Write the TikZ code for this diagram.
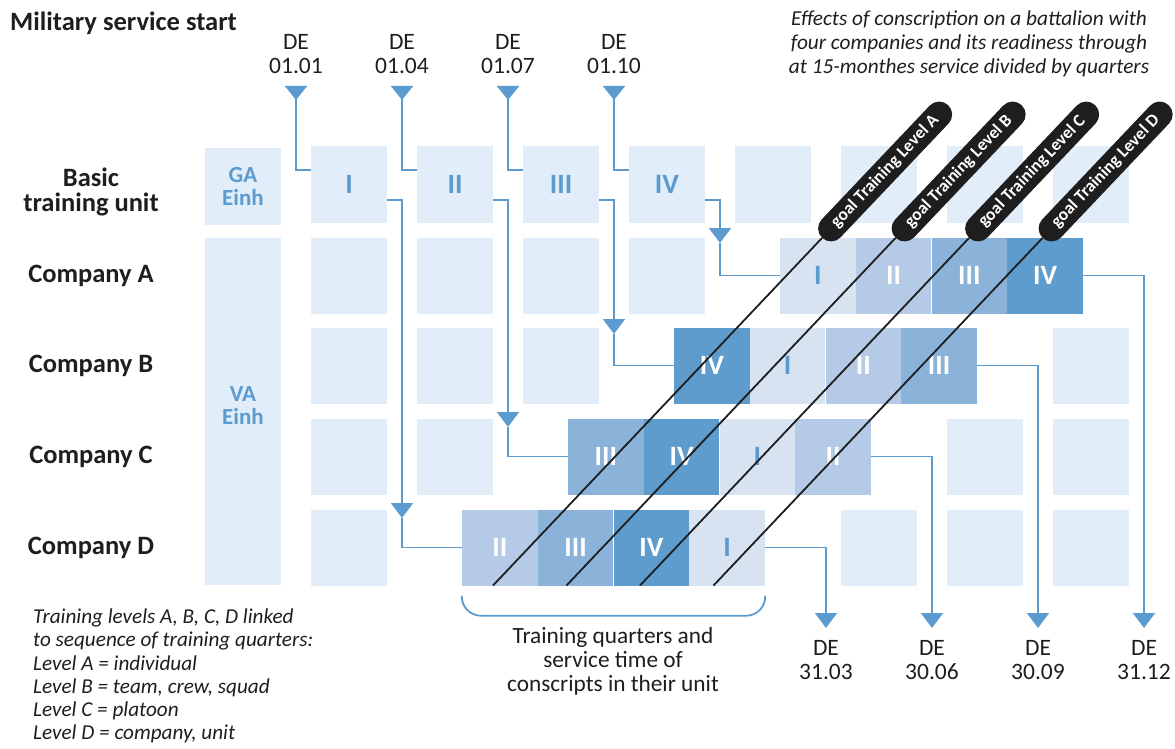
\documentclass[tikz,border=0pt]{standalone}
\usepackage{fontspec}
\setmainfont{Carlito}
\usepackage{tikz}
\usetikzlibrary{arrows.meta,shapes.misc}

\definecolor{cellblue}{HTML}{E1EDF9}
\definecolor{qone}{HTML}{D7E3F1}
\definecolor{qtwo}{HTML}{B4CAE6}
\definecolor{qthree}{HTML}{8BB3D9}
\definecolor{qfour}{HTML}{5D9CCC}
\definecolor{flowblue}{HTML}{5B9BD0}
\definecolor{inkblack}{HTML}{1E1E1E}

\begin{document}
\begin{tikzpicture}[x=1pt,y=-1pt,every node/.style={inner sep=0pt}]
		\tikzstyle{cell}=[fill=cellblue, minimum width=76pt, minimum height=76pt, text=flowblue, font=\fontsize{28}{28}\selectfont\bfseries]
		\tikzstyle{unitbox}=[cell, align=center, font=\fontsize{23}{23}\selectfont\bfseries]
		\tikzstyle{quarter}=[minimum width=75.75pt, minimum height=76pt, font=\fontsize{28}{28}\selectfont\bfseries]
		\tikzstyle{qI}=[quarter, fill=qone, text=flowblue]
		\tikzstyle{qII}=[quarter, fill=qtwo, text=white]
		\tikzstyle{qIII}=[quarter, fill=qthree, text=white]
		\tikzstyle{qIV}=[quarter, fill=qfour, text=white]
		\tikzstyle{rowlabel}=[text=inkblack, align=center, font=\fontsize{26.5}{25}\selectfont\bfseries]
		\tikzstyle{datelbl}=[text=inkblack, align=center, font=\fontsize{23.5}{23.5}\selectfont]
		\tikzstyle{note}=[text=inkblack, font=\fontsize{21.2}{23.3}\selectfont\itshape]
		\tikzstyle{flow}=[draw=flowblue, line width=1.8pt]
		\tikzstyle{downtip}=[-{Triangle[width=22pt,length=15pt]}]
		\tikzstyle{starttip}=[{Triangle[reversed,width=22pt,length=14pt]}-]
		\tikzstyle{goal}=[rounded rectangle, fill=inkblack, text=white, minimum height=26pt, minimum width=183pt, rotate=46.5, anchor=west, font=\fontsize{17.5}{17.5}\selectfont\bfseries]
		\tikzstyle{goalline}=[draw=inkblack, line width=1.8pt]
		
		\useasboundingbox (0,0) rectangle (1175,749);
		
		\node[anchor=base west, text=inkblack, font=\fontsize{26.5}{26.5}\selectfont\bfseries] (title) at (10,31) {Military service start};
		\node[note, align=center, font=\fontsize{21.3}{24}\selectfont\itshape] (effects) at (969,44) {Effects of conscription on a battalion with\\four companies and its readiness through\\at 15-monthes service divided by quarters};
		
		\node[rowlabel]              (basic) at (91,192)   {Basic\\training unit};
		\node[rowlabel, anchor=base] (compA) at (91,282.5) {Company A};
		\node[rowlabel, anchor=base] (compB) at (91,372.5) {Company B};
		\node[rowlabel, anchor=base] (compC) at (91,463.5) {Company C};
		\node[rowlabel, anchor=base] (compD) at (91,554.5) {Company D};
		
		\node[datelbl] (st1) at (296,54) {DE\\01.01};
		\node[datelbl] (st2) at (402,54) {DE\\01.04};
		\node[datelbl] (st3) at (508,54) {DE\\01.07};
		\node[datelbl] (st4) at (614,54) {DE\\01.10};
		
		\node[unitbox] (ga)   at (243,186.5) {GA\\Einh};
		\node[cell]    (bI)   at (349,184.5) {I};
		\node[cell]    (bII)  at (455,184.5) {II};
		\node[cell]    (bIII) at (561,184.5) {III};
		\node[cell]    (bIV)  at (667,184.5) {IV};
		\node[cell]    (b5)   at (773,184.5) {};
		\node[cell]    (b6)   at (879,184.5) {};
		\node[cell]    (b7)   at (985,184.5) {};
		\node[cell]    (b8)   at (1091,184.5) {};
		
		\node[cell, minimum height=347pt] (va) at (243,411.5) {};
		\node[unitbox, fill=none] (vatext) at (243,406) {VA\\Einh};
		
		\node[cell] (cA1) at (349,275.5) {};
		\node[cell] (cA2) at (455,275.5) {};
		\node[cell] (cA3) at (561,275.5) {};
		\node[cell] (cA4) at (667,275.5) {};
		\node[cell] (cB1) at (349,365.5) {};
		\node[cell] (cB2) at (455,365.5) {};
		\node[cell] (cB3) at (561,365.5) {};
		\node[cell] (cB8) at (1091,365.5) {};
		\node[cell] (cC1) at (349,456.5) {};
		\node[cell] (cC2) at (455,456.5) {};
		\node[cell] (cC7) at (985,456.5) {};
		\node[cell] (cC8) at (1091,456.5) {};
		\node[cell] (cD1) at (349,547.5) {};
		\node[cell] (cD6) at (879,547.5) {};
		\node[cell] (cD7) at (985,547.5) {};
		\node[cell] (cD8) at (1091,547.5) {};
		
		\node[qI]   (qA1) at (817.9,275.5) {I};
		\node[qII]  (qA2) at (893.6,275.5) {II};
		\node[qIII] (qA3) at (969.4,275.5) {III};
		\node[qIV]  (qA4) at (1045.1,275.5) {IV};
		\node[qIV]  (qB1) at (711.9,365.5) {IV};
		\node[qI]   (qB2) at (787.6,365.5) {I};
		\node[qII]  (qB3) at (863.4,365.5) {II};
		\node[qIII] (qB4) at (939.1,365.5) {III};
		\node[qIII] (qC1) at (605.9,456.5) {III};
		\node[qIV]  (qC2) at (681.6,456.5) {IV};
		\node[qI]   (qC3) at (757.4,456.5) {I};
		\node[qII]  (qC4) at (833.1,456.5) {II};
		\node[qII]  (qD1) at (499.9,547.5) {II};
		\node[qIII] (qD2) at (575.6,547.5) {III};
		\node[qIV]  (qD3) at (651.4,547.5) {IV};
		\node[qI]   (qD4) at (727.1,547.5) {I};
		
		\node[datelbl] (enD) at (826,660)  {DE\\31.03};
		\node[datelbl] (enC) at (932,660)  {DE\\30.06};
		\node[datelbl] (enB) at (1038,660) {DE\\30.09};
		\node[datelbl] (enA) at (1144,660) {DE\\31.12};
		
		\coordinate (dropD) at (402,518);
		\coordinate (dropC) at (508,427);
		\coordinate (dropB) at (614,334);
		\coordinate (dropA) at (720,243);
		
		\draw[flow,starttip] ([yshift=-32pt]st1.center) |- ([yshift=14.5pt]bI.west);
		\draw[flow,starttip] ([yshift=-32pt]st2.center) |- ([yshift=14.5pt]bII.west);
		\draw[flow,starttip] ([yshift=-32pt]st3.center) |- ([yshift=14.5pt]bIII.west);
		\draw[flow,starttip] ([yshift=-32pt]st4.center) |- ([yshift=14.5pt]bIV.west);
		
		\draw[flow,downtip] ([yshift=-15.5pt]bI.east)   -| (dropD);
		\draw[flow,downtip] ([yshift=-15.5pt]bII.east)  -| (dropC);
		\draw[flow,downtip] ([yshift=-15.5pt]bIII.east) -| (dropB);
		\draw[flow,downtip] ([yshift=-15.5pt]bIV.east)  -| (dropA);
		\draw[flow] (dropD) |- (qD1.west);
		\draw[flow] (dropC) |- (qC1.west);
		\draw[flow] (dropB) |- (qB1.west);
		\draw[flow] (dropA) |- (qA1.west);
		
		\draw[flow,downtip] (qD4.east) -| ([yshift=32pt]enD.center);
		\draw[flow,downtip] (qC4.east) -| ([yshift=32pt]enC.center);
		\draw[flow,downtip] (qB4.east) -| ([yshift=32pt]enB.center);
		\draw[flow,downtip] (qA4.east) -| ([yshift=32pt]enA.center);
		
		\node[goal] (goalA) at (822,238)    {goal Training Level A};
		\node[goal] (goalB) at (895.5,238)  {goal Training Level B};
		\node[goal] (goalC) at (969,238)    {goal Training Level C};
		\node[goal] (goalD) at (1042.5,238) {goal Training Level D};
		\coordinate (lvA) at (493,585.5);
		\coordinate (lvB) at (566.5,585.5);
		\coordinate (lvC) at (640,585.5);
		\coordinate (lvD) at (713.5,585.5);
		\draw[goalline] (lvA) -- (goalA.west);
		\draw[goalline] (lvB) -- (goalB.west);
		\draw[goalline] (lvC) -- (goalC.west);
		\draw[goalline] (lvD) -- (goalD.west);
		
		\draw[flow, rounded corners=19pt] ([yshift=-10pt]qD1.south west) -- ([yshift=-30pt]qD1.south west) -- ([yshift=-30pt]qD4.south east) -- ([yshift=-10pt]qD4.south east);
		\node[datelbl, font=\fontsize{23.3}{24}\selectfont] (span) at (613,661) {Training quarters and\\service time of\\conscripts in their unit};
		\node[note, align=left, anchor=west] (levels) at (33,676) {Training levels A, B, C, D linked\\to sequence of training quarters:\\Level A = individual\\Level B = team, crew, squad\\Level C = platoon\\Level D = company, unit};
\end{tikzpicture}
\end{document}
